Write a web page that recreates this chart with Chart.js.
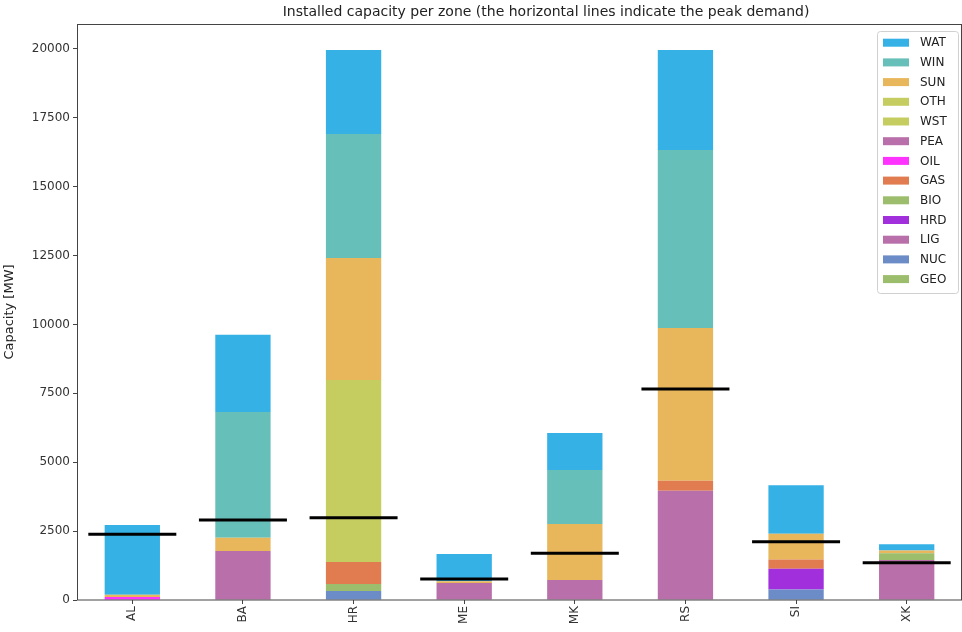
<!DOCTYPE html>
<html>
<head>
<meta charset="utf-8">
<script src="https://cdn.jsdelivr.net/npm/chart.js@4"></script>
<style>
  html, body { margin: 0; padding: 0; background: #fff; }
  #wrap { width: 962px; height: 632px; }
</style>
</head>
<body>
<div id="wrap"><canvas id="capChart"></canvas></div>
<script>
// zones on the x axis
const zones = ["AL", "BA", "HR", "ME", "MK", "RS", "SI", "XK"];

// installed capacity per technology [MW], one value per zone (bottom of stack first)
const GEO = [0, 0, 0, 0, 0, 0, 0, 0];
const NUC = [0, 0, 330, 0, 0, 0, 380, 0];
const LIG = [0, 1780, 0, 620, 730, 3960, 0, 1450];
const HRD = [0, 0, 0, 0, 0, 0, 750, 0];
const BIO = [0, 0, 250, 0, 0, 0, 0, 250];
const GAS = [0, 0, 800, 0, 0, 370, 340, 0];
const OIL = [110, 0, 0, 0, 0, 0, 0, 0];
const PEA = [0, 0, 0, 0, 0, 0, 0, 0];
const WST = [0, 0, 0, 0, 0, 0, 0, 0];
const OTH = [0, 0, 6600, 0, 0, 0, 0, 0];
const SUN = [80, 480, 4430, 60, 2030, 5540, 930, 100];
const WIN = [0, 4560, 4500, 0, 1960, 6460, 0, 0];
const WAT = [2530, 2800, 3050, 990, 1340, 3630, 1760, 220];

// peak demand per zone [MW]
const peakDemand = [2390, 2900, 2980, 760, 1700, 7660, 2110, 1350];

// y ticks
const yTicks = [0, 2500, 5000, 7500, 10000, 12500, 15000, 17500, 20000];

// series: name, values, colour (stack order)
const series = [
  ["GEO", GEO, "#9cbd6b"],
  ["NUC", NUC, "#6b8cc7"],
  ["LIG", LIG, "#b96fa9"],
  ["HRD", HRD, "#a22fdc"],
  ["BIO", BIO, "#9cbd6b"],
  ["GAS", GAS, "#e07c4f"],
  ["OIL", OIL, "#ff33ff"],
  ["PEA", PEA, "#b96fa9"],
  ["WST", WST, "#c6cd60"],
  ["OTH", OTH, "#c6cd60"],
  ["SUN", SUN, "#e8b65b"],
  ["WIN", WIN, "#67bfb9"],
  ["WAT", WAT, "#35b1e6"]
];

const TITLE = "Installed capacity per zone (the horizontal lines indicate the peak demand)";
const FONT = "'DejaVu Sans', sans-serif";

const barSets = series.map(([name, vals, col]) => ({
  type: "bar",
  label: name,
  data: vals,
  backgroundColor: col,
  borderWidth: 0,
  stack: "cap",
  categoryPercentage: 1.0,
  barPercentage: 0.5,
  order: 1
}));

// peak demand drawn as short horizontal markers
const peakSet = {
  type: "line",
  label: "peak",
  data: peakDemand,
  stack: "peak",
  showLine: false,
  pointStyle: "line",
  pointRadius: 44,
  pointHoverRadius: 44,
  pointBorderWidth: 3,
  pointBorderColor: "#000",
  pointBackgroundColor: "#000",
  order: 0
};

// title, frame around the plot, legend box inside the plot (top right)
const framePlugin = {
  id: "frameAndLegend",
  afterDraw(chart) {
    const { ctx, chartArea: a } = chart;
    ctx.save();
    ctx.strokeStyle = "#444";
    ctx.lineWidth = 1;
    ctx.strokeRect(a.left + 0.5, a.top + 0.5, a.right - a.left - 1, a.bottom - a.top - 0.5);

    // title (centred over the axes as in the original figure)
    ctx.fillStyle = "#222";
    ctx.font = "14px " + FONT;
    ctx.textAlign = "center";
    ctx.textBaseline = "middle";
    ctx.fillText(TITLE, 546, 12);

    // legend
    const x0 = 877, y0 = 31, w = 81, h = 262;
    ctx.fillStyle = "rgba(255,255,255,0.85)";
    ctx.strokeStyle = "#d0d0d0";
    ctx.beginPath();
    ctx.roundRect(x0 + 0.5, y0 + 0.5, w, h, 3);
    ctx.fill();
    ctx.stroke();
    const items = series.slice().reverse();
    ctx.font = "12px " + FONT;
    ctx.textAlign = "left";
    items.forEach(([name, , col], i) => {
      const cy = 42.7 + i * 19.7;
      ctx.fillStyle = col;
      ctx.fillRect(883, cy - 4, 26, 8);
      ctx.fillStyle = "#222";
      ctx.fillText(name, 920, cy + 0.5);
    });
    ctx.restore();
  }
};

new Chart(document.getElementById("capChart"), {
  data: {
    labels: zones,
    datasets: [peakSet, ...barSets]
  },
  options: {
    responsive: true,
    maintainAspectRatio: false,
    animation: false,
    layout: { padding: { top: 24, left: 0, right: 0, bottom: 0 }, autoPadding: false },
    plugins: {
      legend: { display: false },
      tooltip: { enabled: false },
      title: { display: false }
    },
    scales: {
      x: {
        stacked: true,
        offset: true,
        border: { display: false },
        grid: { drawOnChartArea: false, drawTicks: true, tickLength: 4, color: "#444", offset: false },
        ticks: {
          color: "#333",
          font: { family: FONT, size: 12 },
          minRotation: 90,
          maxRotation: 90,
          padding: 2
        },
        afterFit(s) { s.height = 32; }
      },
      y: {
        stacked: true,
        min: 0,
        max: 20900,
        border: { display: false },
        grid: { drawOnChartArea: false, drawTicks: true, tickLength: 4, color: "#444" },
        afterBuildTicks(s) { s.ticks = yTicks.map(v => ({ value: v })); },
        ticks: {
          color: "#333",
          font: { family: FONT, size: 12 },
          padding: 3,
          callback: v => String(v)
        },
        title: {
          display: true,
          text: "Capacity [MW]",
          color: "#222",
          font: { family: FONT, size: 13 },
          padding: { top: 2, bottom: 0 }
        },
        afterFit(s) { s.width = 77; }
      }
    }
  },
  plugins: [framePlugin]
});
</script>
</body>
</html>
